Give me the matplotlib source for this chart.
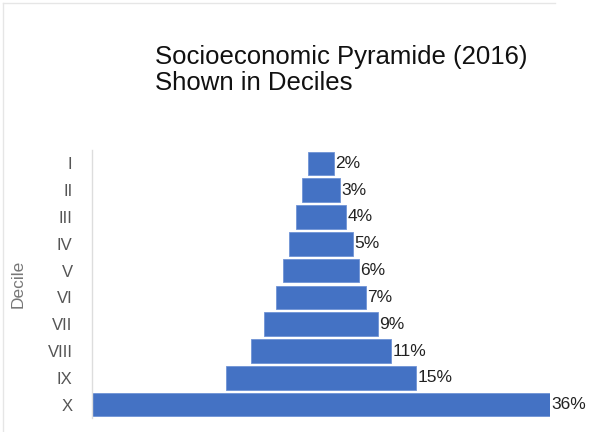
import matplotlib
matplotlib.use("Agg")
import matplotlib.pyplot as plt
from matplotlib.lines import Line2D

deciles = ["I", "II", "III", "IV", "V", "VI", "VII", "VIII", "IX", "X"]
shares = [2, 3, 4, 5, 6, 7, 9, 11, 15, 36]

plt.rcParams['font.family'] = ['Liberation Sans', 'DejaVu Sans']

fig = plt.figure(figsize=(5.92, 4.32), dpi=100)
ax = fig.add_axes([92/592, 14/432, 458/592, 268/432])

mx = max(shares)
pos = list(range(len(deciles)))
left = [(mx - v) / 2 for v in shares]
ax.barh(pos, shares, left=left, height=0.88, color="#4472C4", edgecolor="#6f93d6", linewidth=0.6)
for p, v, l in zip(pos, shares, left):
    ax.text(l + v + 0.1, p, f"{v}%", va="center", ha="left", fontsize=12.5, color="#222222")

ax.set_xlim(0, mx)
ax.set_ylim(len(deciles) - 0.5, -0.5)
ax.set_yticks(pos)
ax.set_yticklabels(deciles, fontsize=12, color="#555555")
ax.set_xticks([])
ax.tick_params(axis="y", length=0, pad=14)
for s in ["top", "right", "bottom"]:
    ax.spines[s].set_visible(False)
ax.spines["left"].set_color("#dddddd")
ax.spines["left"].set_linewidth(1.0)
ax.set_ylabel("Decile", fontsize=12.5, color="#777777")
ax.yaxis.set_label_coords(-0.145, 0.5)

fig.text(155/592, 1 - 45/432, "Socioeconomic Pyramide (2016)\nShown in Deciles",
         ha="left", va="top", fontsize=18.5, color="#111111", linespacing=1.12)

fig.add_artist(Line2D([3/592, 3/592], [0, 1 - 3/432], color="#e6e6e6", lw=1, transform=fig.transFigure))
fig.add_artist(Line2D([3/592, 555/592], [1 - 3/432, 1 - 3/432], color="#e6e6e6", lw=1, transform=fig.transFigure))

fig.savefig("out.png", dpi=100)
